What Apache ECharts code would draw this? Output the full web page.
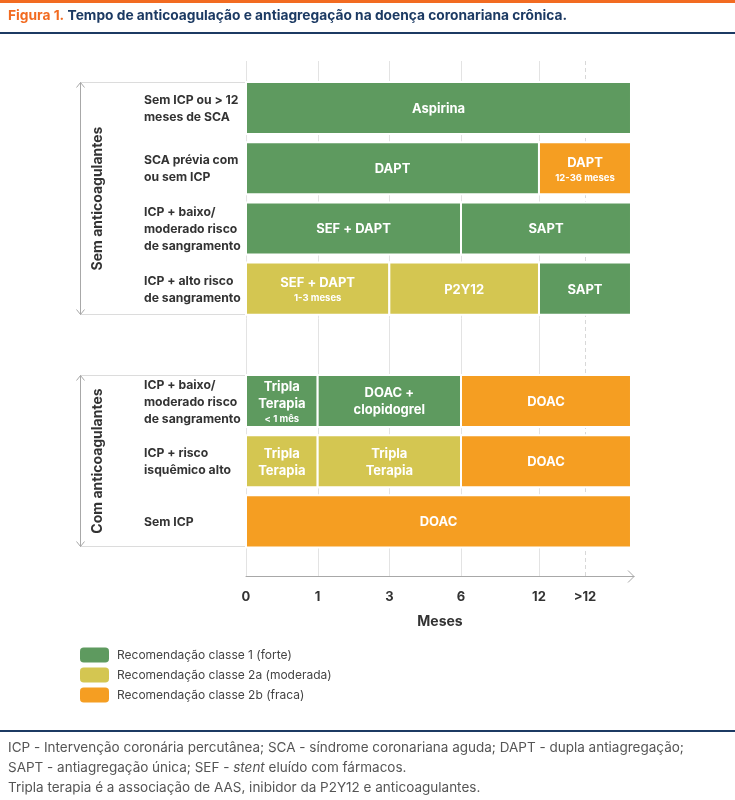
<!DOCTYPE html>
<html><head><meta charset="utf-8">
<script src="https://cdn.jsdelivr.net/npm/echarts@6/dist/echarts.min.js"></script>
<style>html,body{margin:0;padding:0;background:#fff}#c{width:735px;height:800px}</style>
</head><body><div id="c"></div>
<script>
// ---------- data ----------
const rowLabels = [
  'Sem ICP ou > 12\nmeses de SCA',
  'SCA prévia com\nou sem ICP',
  'ICP + baixo/\nmoderado risco\nde sangramento',
  'ICP + alto risco\nde sangramento',
  'ICP + baixo/\nmoderado risco\nde sangramento',
  'ICP + risco\nisquêmico alto',
  'Sem ICP'
];
const groupNames = ['Sem anticoagulantes', 'Com anticoagulantes'];
const groupFirstRow = [0, 4];
const groupLastRow = [3, 6];
const classNames = ['Recomendação classe 1 (forte)', 'Recomendação classe 2a (moderada)', 'Recomendação classe 2b (fraca)'];
const tickMonths = [0, 1, 3, 6, 12, 24];
const tickLabels = ['0', '1', '3', '6', '12', '>12'];
const endMonth = 36;
// segments (months)
const segRow   = [0, 1, 1, 2, 2, 3, 3, 3, 4, 4, 4, 5, 5, 5, 6];
const segStart = [0, 0, 12, 0, 6, 0, 3, 12, 0, 1, 6, 0, 1, 6, 0];
const segEnd   = [36, 12, 36, 6, 36, 3, 12, 36, 1, 6, 36, 1, 6, 36, 36];
const segClass = [0, 0, 2, 0, 0, 1, 1, 0, 0, 0, 2, 1, 1, 2, 2];
const segLabel = ['Aspirina', 'DAPT', 'DAPT', 'SEF + DAPT', 'SAPT', 'SEF + DAPT', 'P2Y12', 'SAPT',
  'Tripla\nTerapia', 'DOAC +\nclopidogrel', 'DOAC', 'Tripla\nTerapia', 'Tripla\nTerapia', 'DOAC', 'DOAC'];
const segSub = ['', '', '12-36 meses', '', '', '1-3 meses', '', '', '< 1 mês', '', '', '', '', '', ''];

// ---------- scale helpers (layout) ----------
const knotMonths = [0, 1, 3, 6, 12, 24, 36];
const knotPos = [0, 1, 2, 3, 4.088, 4.730, 5.372];
function mpos(m) {
  for (let i = 0; i < knotMonths.length - 1; i++) {
    if (m <= knotMonths[i + 1]) {
      const t = (m - knotMonths[i]) / (knotMonths[i + 1] - knotMonths[i]);
      return knotPos[i] + t * (knotPos[i + 1] - knotPos[i]);
    }
  }
  return knotPos[knotPos.length - 1];
}
const GROUP_GAP = 0.867;
function rpos(r) { return r < 4 ? r : r + GROUP_GAP; }
const BAR_H = 0.865;
const FONT = 'Inter, "Noto Sans", sans-serif';
const colors = ['#5e9a5f', '#d4c651', '#f59e22'];

function segSeries(cls) {
  const data = [];
  segRow.forEach((r, i) => {
    if (segClass[i] === cls) data.push([mpos(segStart[i]), mpos(segEnd[i]), rpos(r), segLabel[i], segSub[i]]);
  });
  return {
    type: 'custom', name: classNames[cls], z: 5,
    encode: { x: [0, 1], y: 2 },
    data: data,
    renderItem: function (params, api) {
      const s = api.value(0), e = api.value(1), r = api.value(2);
      const d = data[params.dataIndex];
      const p0 = api.coord([s, r - BAR_H / 2]);
      const p1 = api.coord([e, r + BAR_H / 2]);
      let txt = d[3].split('\n').map(l => '{m|' + l + '}').join('\n');
      if (d[4]) txt += '\n{s|' + d[4] + '}';
      return {
        type: 'group',
        children: [
          { type: 'rect', shape: { x: p0[0], y: p0[1], width: p1[0] - p0[0], height: p1[1] - p0[1] },
            style: { fill: colors[cls], stroke: '#fff', lineWidth: 2 } },
          { type: 'text', x: (p0[0] + p1[0]) / 2, y: (p0[1] + p1[1]) / 2 + 1,
            style: { text: txt, align: 'center', verticalAlign: 'middle', fill: '#fff',
              rich: {
                m: { fontFamily: FONT, fontWeight: 'bold', fontSize: 13, lineHeight: 17, fill: '#fff', align: 'center' },
                s: { fontFamily: FONT, fontWeight: 'bold', fontSize: 9.5, lineHeight: 13, fill: '#fff', align: 'center' }
              } } }
        ]
      };
    }
  };
}

const series = [0, 1, 2].map(segSeries);

// grid lines
series.push({
  type: 'custom', z: 1, silent: true,
  data: tickMonths.map(m => [mpos(m)]),
  encode: { x: 0 },
  renderItem: function (params, api) {
    const cs = params.coordSys;
    const x = Math.round(api.coord([api.value(0), 0])[0]) + 0.5;
    const dashed = params.dataIndex === tickMonths.length - 1;
    return { type: 'line', shape: { x1: x, y1: cs.y, x2: x, y2: cs.y + cs.height },
      style: { stroke: dashed ? '#d8d8d8' : '#e3e3e3', lineWidth: 1, lineDash: dashed ? [4, 3] : null } };
  }
});

// row labels
series.push({
  type: 'custom', z: 3, silent: true,
  data: rowLabels.map((l, i) => [0, rpos(i)]),
  encode: { x: 0, y: 1 },
  renderItem: function (params, api) {
    const p = api.coord([0, api.value(1)]);
    return { type: 'text', x: p[0] - 102, y: p[1] + 1,
      style: { text: rowLabels[params.dataIndex], align: 'left', verticalAlign: 'middle',
        fontFamily: FONT, fontWeight: 'bold', fontSize: 12.2, lineHeight: 17, fill: '#333' } };
  }
});

// group brackets
series.push({
  type: 'custom', z: 3, silent: true,
  data: groupNames.map((g, i) => [0, rpos(groupFirstRow[i]), rpos(groupLastRow[i])]),
  encode: { x: 0, y: [1, 2] },
  renderItem: function (params, api) {
    const top = api.coord([0, api.value(1) - BAR_H / 2]);
    const bot = api.coord([0, api.value(2) + BAR_H / 2]);
    const x0 = top[0];
    const ax = x0 - 165.5;
    const y1 = Math.round(top[1]) + 0.5, y2 = Math.round(bot[1]) - 0.5;
    const lc = '#dcdcdc', ac = '#a8a8a8';
    return { type: 'group', children: [
      { type: 'line', shape: { x1: ax, y1: y1, x2: x0, y2: y1 }, style: { stroke: lc, lineWidth: 1 } },
      { type: 'line', shape: { x1: ax, y1: y2, x2: x0, y2: y2 }, style: { stroke: lc, lineWidth: 1 } },
      { type: 'line', shape: { x1: ax, y1: y1, x2: ax, y2: y2 }, style: { stroke: ac, lineWidth: 1 } },
      { type: 'polyline', shape: { points: [[ax - 4, y1 + 5], [ax, y1], [ax + 4, y1 + 5]] }, style: { stroke: ac, fill: null, lineWidth: 1 } },
      { type: 'polyline', shape: { points: [[ax - 4, y2 - 5], [ax, y2], [ax + 4, y2 - 5]] }, style: { stroke: ac, fill: null, lineWidth: 1 } },
      { type: 'text', x: ax + 17, y: (y1 + y2) / 2, rotation: Math.PI / 2,
        style: { text: groupNames[params.dataIndex], align: 'center', verticalAlign: 'middle',
          fontFamily: FONT, fontWeight: 'bold', fontSize: 14, fill: '#333' } }
    ] };
  }
});

const chart = echarts.init(document.getElementById('c'), null, { renderer: 'canvas' });
chart.setOption({
  animation: false,
  color: colors,
  grid: { left: 246, right: 101, top: 61, height: 515 },
  xAxis: {
    type: 'value', min: 0, max: 5.414,
    name: 'Meses', nameLocation: 'middle', nameGap: 39,
    nameTextStyle: { fontFamily: FONT, fontWeight: 'bold', fontSize: 14, color: '#333' },
    axisLine: { show: true, onZero: false, lineStyle: { color: '#a8a8a8', width: 1 } },
    axisTick: { show: false },
    splitLine: { show: false },
    axisLabel: {
      customValues: tickMonths.map(mpos),
      margin: 15, fontFamily: FONT, fontWeight: 'bold', fontSize: 13, color: '#333',
      formatter: function (v) {
        let best = 0;
        tickMonths.forEach((m, i) => { if (Math.abs(mpos(m) - v) < Math.abs(mpos(tickMonths[best]) - v)) best = i; });
        return tickLabels[best];
      }
    }
  },
  yAxis: { type: 'value', inverse: true, min: -0.781, max: 7.774, show: false },
  legend: {
    data: classNames, orient: 'vertical', left: 80, top: 647.5, padding: 0,
    itemWidth: 29, itemHeight: 15, itemGap: 5, icon: 'roundRect', selectedMode: false,
    textStyle: { fontFamily: FONT, fontSize: 12, color: '#444', padding: [0, 0, 0, 3] }
  },
  graphic: [
    { type: 'rect', left: 0, top: 0, shape: { width: 735, height: 3 }, style: { fill: '#f26b21' } },
    { type: 'text', left: 8, top: 9,
      style: { text: '{a|Figura 1.} {b|Tempo de anticoagulação e antiagregação na doença coronariana crônica.}',
        rich: { a: { fontFamily: FONT, fontWeight: 'bold', fontSize: 13.75, fill: '#f26b21' },
                b: { fontFamily: FONT, fontWeight: 'bold', fontSize: 13.75, fill: '#1c3a63' } } } },
    { type: 'rect', left: 0, top: 32, shape: { width: 735, height: 2 }, style: { fill: '#1c3a63' } },
    // axis arrow head
    { type: 'polyline', shape: { points: [[628, 570.5], [634, 576.5], [628, 582.5]] }, style: { stroke: '#a8a8a8', fill: null, lineWidth: 1 } },
    { type: 'rect', left: 0, top: 730, shape: { width: 735, height: 2 }, style: { fill: '#1c3a63' } },
    { type: 'text', left: 8, top: 738,
      style: { text: 'ICP - Intervenção coronária percutânea; SCA - síndrome coronariana aguda; DAPT - dupla antiagregação;\n{n|SAPT - antiagregação única; SEF - }{i|stent}{n| eluído com fármacos.}\nTripla terapia é a associação de AAS, inibidor da P2Y12 e anticoagulantes.',
        fontFamily: FONT, fontSize: 13.5, lineHeight: 20, fill: '#555',
        rich: { n: { fontFamily: FONT, fontSize: 13.5, lineHeight: 20, fill: '#555' },
                i: { fontFamily: FONT, fontSize: 13.5, lineHeight: 20, fill: '#555', fontStyle: 'italic' } } } }
  ],
  series: series
});
</script></body></html>
